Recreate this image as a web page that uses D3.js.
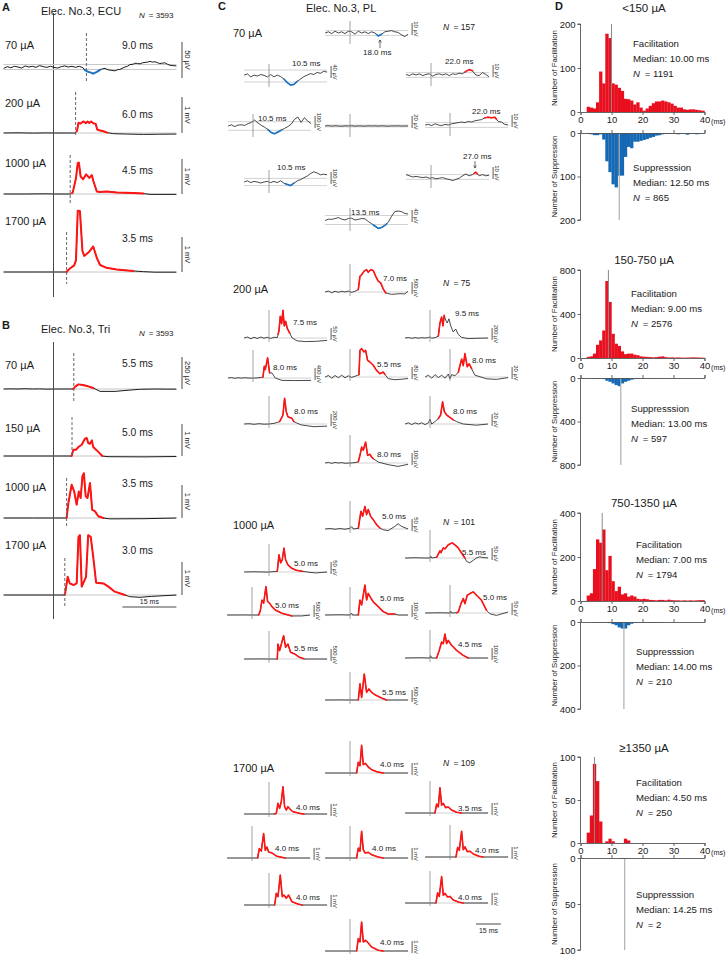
<!DOCTYPE html>
<html><head><meta charset="utf-8">
<script src="https://cdn.jsdelivr.net/npm/d3@7"></script>
<style>
body{margin:0;background:#fff}
svg{display:block}
text{font-family:"Liberation Sans",Arial,Helvetica,sans-serif;fill:#1a1a1a}
</style></head>
<body><svg id="c" width="727" height="956"></svg>
<script>
// ================= DATA =================
// Panel A (ECU) – traces as [time ms, amplitude µV]
const aLevels = ["70 µA","200 µA","1000 µA","1700 µA"];
const aLatency = [9.0, 6.0, 4.5, 3.5];
const aScaleUV = [50, 1000, 1000, 1000];
const aT70 = [[-14,-2],[-13,0.5],[-12,-1],[-11,1],[-10,0],[-9,-1.5],[-8,1.5],[-7,0],[-6,1],[-5,-0.5],[-4,2],[-3,0.5],[-2,-0.5],[-1,1],[0,-0.5],[1,-1.5],[2,0.5],[3,1.5],[4,0],[5,1],[6,-0.5],[7,1],[8,-1],[8.6,-4.5],[9.5,-7],[10.3,-8],[10.9,-9.5],[11.9,-7],[12.8,-4],[13.5,-2.5],[14.2,-2],[15,-4],[15.6,-4.5],[16.9,-5.5],[17.6,-4],[18.3,-3.5],[19.7,0],[20.4,1],[21.1,3.5],[22,4],[22.5,5.5],[23.2,5],[23.9,4.5],[24.6,6],[25.3,6.5],[26,7],[26.7,8],[27.4,7],[28.1,7.5],[28.8,6],[29.4,5],[30.1,5.5],[30.8,6],[31.5,4],[32.2,2.5],[33,2],[34,1.5]];
const aT200 = [[-14,0],[-10,5],[-6,-3],[-2,3],[0,0],[4,0],[5.8,0],[6.4,60],[6.8,290],[7.4,270],[8.1,330],[8.9,280],[9.3,330],[9.8,290],[10.3,330],[10.9,280],[11.6,260],[12,100],[12.8,70],[13.7,50],[14.8,10],[16.5,-20],[20.2,-30],[24.8,-40],[29,-35],[34,-30]];
const aT1000 = [[-14,0],[-8,0],[-2,5],[0,0],[4.7,0],[5.2,40],[6.1,450],[6.6,880],[6.9,900],[7.4,500],[8.1,420],[8.9,560],[9.3,520],[9.8,460],[10.5,540],[10.9,380],[11.9,70],[12.8,60],[14.6,70],[17.4,45],[22,30],[24.8,12],[26.7,-10],[30,-12],[34,-10]];
const aT1700 = [[-14,0],[-6,0],[0,0],[3.5,0],[4,60],[4.4,100],[5.6,190],[6.1,330],[6.6,1750],[7.2,1740],[7.9,600],[8.4,460],[9.8,580],[10.9,730],[11.9,400],[12.8,200],[14.6,120],[17.4,70],[22,30],[24.8,10],[28,-5],[34,-5]];
const aTraces = [aT70, aT200, aT1000, aT1700];
const aHighlight = [[8.5,12.8,"b"],[6.2,14.8,"r"],[5,24.8,"r"],[3.5,22,"r"]];
const aBand = [3.5,0,0,0];

// Panel B (Tri)
const bLevels = ["70 µA","150 µA","1000 µA","1700 µA"];
const bLatency = [5.5, 5.0, 3.5, 3.0];
const bScaleUV = [250, 1000, 1000, 1000];
const bT70 = [[-14,0],[-12,1],[-10,0],[-8,2],[-6,0],[-4,1],[-2,-1],[0,0],[5.3,0],[6,19],[6.8,33],[8,29],[9.5,19],[10.9,7],[12.8,-17],[17,-17],[20,-10],[24,-2],[28,0],[31,-1],[34,-1]];
const bT150 = [[-14,0],[-6,0],[0,0],[4.9,0],[5.4,180],[6.1,180],[6.8,256],[7.7,323],[8.6,494],[9.1,513],[9.5,370],[10,350],[10.5,446],[10.9,256],[11.9,160],[12.8,67],[13.4,0],[15,-20],[25,-25],[34,-15]];
const bT1000 = [[-14,0],[-6,0],[0,0],[3.5,0],[4,430],[4.9,950],[5.6,760],[6.3,380],[6.9,760],[7.4,570],[7.9,1190],[8.3,1280],[8.8,620],[9.3,570],[10,1000],[10.6,240],[11.4,190],[12.3,48],[13.7,0],[15.5,-25],[25,-20],[34,0]];
const bT1700 = [[-14,0],[0,0],[2.9,0],[3.1,48],[3.8,520],[4.4,330],[5.4,285],[6.3,330],[6.8,1660],[7.2,1710],[7.7,240],[8.1,330],[8.9,520],[9.5,1710],[10.2,1660],[10.9,1090],[11.7,350],[13.7,330],[15.1,240],[16.9,95],[19.7,0],[21,-48],[23.9,-66],[27,-40],[34,0]];
const bTraces = [bT70, bT150, bT1000, bT1700];
const bHighlight = [[5.3,10.9,"r"],[4.9,13.4,"r"],[3.5,13.7,"r"],[2.9,19.7,"r"]];

// Panel C (PL) – 9 electrode sites per intensity
const cLevels = ["70 µA","200 µA","1000 µA","1700 µA"];
const cN = [157, 75, 101, 109];
// 70 µA: amplitudes µV sampled every 2 ms from -15 ms
const c70 = [
 [0,1,-0.5,1.5,0,1,-0.5,1.5,1,-1,1.5,0,1,-0.5,1,0,-2.5,-1,1,1.5,2,1,0.5,-1.5,-3,-1],
 [3,7,-3,3,0,5,2,-3,5,-3,3,-2,-10,-22,-30,-28,-18,-10,-2,3,8,5,12,9,16,13],
 [0.5,-0.5,1,0,1,-0.5,0.5,1,-1,0.5,1,0,1,-0.5,1,0.5,1.5,1,3,4.5,3.5,0,-0.5,2,0.5,-1.5],
 [0,10,-5,8,10,5,20,30,50,25,5,-10,-30,-55,-65,-50,-35,-20,-5,15,55,75,30,70,40,20],
 [0,0.5,-0.3,0.4,0,-0.4,0.3,0,0.4,-0.3,0.2,0,-0.3,0.3,0,0.2,-0.2,0.3,0,-0.3,0.2,0,0.3,-0.2,0.1,0],
 [0,0.5,-0.5,1,0,-0.5,0.5,0,1,1.5,2,2.5,2,3,2.5,3.5,4,4.5,6,6.5,6,6.5,3,2.5,0.5,0],
 [0,10,-5,5,0,-8,0,5,-5,5,-5,10,-10,-20,-30,-10,10,20,35,50,70,85,75,60,65,60],
 [2,1,0,0.5,0,-0.5,0,-1,-0.5,-1.5,-1,-0.5,-1.5,-2,-3,-2,-1,1,2.5,1,2,4,1,2,1,1.5],
 [-2,3,2,5,8,3,0,5,6,0,2,5,4,-5,-12,-20,-28,-25,-18,-8,12,28,30,28,22,20]
];
const c70Scale = [10,40,10,100,20,10,100,10,40];
const c70Lat = ["18.0","10.5","22.0","10.5",null,"22.0","10.5","27.0","13.5"];
const c70Hi = [[16,19,"b"],[9,17,"b"],[20.5,25,"r"],[9,17,"b"],null,[21,28,"r"],[10,15,"b"],[26,28,"r"],[14,22,"b"]];
const c70Band = [2,20,2,36,1.5,2,30,2,15];

const c200 = [
 [[-15,0],[-13,40],[-11,-30],[-9,30],[-7,-10],[-5,30],[-3,0],[-1,40],[1,-15],[3,30],[5,100],[6,650],[7,720],[8.5,870],[10,930],[11,820],[12.5,930],[14,900],[15.5,650],[17,450],[18.5,380],[20,130],[21.5,-40],[25,-100],[30,-70],[33,-80],[35,30]],
 [[-15,0],[-13,4],[-11,-3],[-9,3],[-7,-2],[-5,4],[-3,-1],[-1,3],[1,-2],[3,3],[5,2],[6,30],[6.8,90],[7.6,60],[8.4,115],[9.2,50],[10,70],[11,40],[12.5,20],[14,0],[17,-12],[22,-15],[28,-14],[35,-10]],
 [[-15,0],[-13,8],[-11,-5],[-9,6],[-7,-3],[-5,5],[-3,0],[-1,6],[0,20],[1,-2],[3,5],[5,30],[6,250],[7,350],[7.8,200],[8.6,380],[9.4,300],[10.4,250],[11.4,320],[12.5,200],[14,100],[15.5,150],[17,60],[19,10],[23,-10],[28,-5],[35,0]],
 [[-15,0],[-13,15],[-11,-10],[-9,10],[-7,-5],[-5,10],[-3,0],[-1,-5],[1,0],[3,5],[6,30],[6.8,390],[7.4,280],[8.8,670],[10,170],[11.4,170],[13.4,0],[17.4,-80],[25,-85],[35,-80]],
 [[-15,0],[-13,10],[-11,-8],[-9,10],[-7,-5],[-5,12],[-3,-5],[-1,8],[1,-3],[3,5],[5.4,15],[6,178],[7,189],[8.4,167],[9.4,178],[10.6,111],[12,100],[14,78],[16,44],[18,22],[20,33],[21,18],[23,-11],[27,-18],[31,-15],[35,-10]],
 [[-15,0],[-13,3],[-11,-2],[-9,4],[-7,-1],[-5,3],[-3,-2],[-1,5],[0,-3],[1,4],[3,2],[5,8],[7,30],[8,19],[9,39],[10.4,17],[11.6,22],[13,14],[15,3],[22,-3],[28,-4],[35,-1]],
 [[-15,0],[-12,5],[-9,-5],[-6,5],[-3,-3],[0,0],[3,10],[6.4,40],[7.4,95],[8.4,150],[9.4,430],[10.4,205],[11.4,120],[12.4,110],[13.8,95],[15,40],[16.4,20],[19.4,-15],[27,-45],[35,-35]],
 [[-15,0],[-13,2],[-11,-1],[-9,2],[-7,0],[-5,2],[-3,-1],[-1,2],[0,8],[1,0],[3,4],[5,9],[6.4,15],[7.6,37],[8.6,21],[10,15],[12,11],[14,7],[16,4],[20,0],[28,-2],[35,0]],
 [[-15,0],[-13,5],[-11,-3],[-9,5],[-7,0],[-5,3],[-3,-2],[0,0],[3,3],[5,10],[6,64],[7,133],[8,106],[9.4,175],[10.6,64],[12,72],[13,50],[14,36],[17,8],[23,-14],[29,-28],[35,-11]]
];
const c200Scale = [500,50,200,400,80,20,200,20,100];
const c200Lat = ["7.0","7.5","9.5","8.0","5.5","8.0","8.0","8.0","8.0"];
const c200Hi = [[5,21.5,"r"],[5.5,12.5,"r"],[5,8.6,"r"],[6,10,"r"],[5.4,21,"r"],[5,13,"r"],[6.4,15,"r"],[5,14,"r"],[5,14,"r"]];

const c1000 = [
 [[-15,0],[-12,2],[-9,-1],[-6,2],[-3,-1],[0,3],[1,10],[2,0],[5,3],[6.6,74],[7.6,53],[9,94],[10,60],[11,81],[12.4,53],[14,39],[16,18],[18,4],[20,-3],[23,-7],[27,11],[29,22],[31,11],[35,0]],
 [[-15,0],[-9,1],[-3,0],[0,0],[5,3],[5.4,30],[6,72],[7,38],[8,51],[9,100],[10,51],[11.4,30],[13.4,17],[16.4,7],[20,3],[24,-1],[28,-4],[35,0]],
 [[-15,0],[-9,1],[-3,0],[0,0],[0.4,8],[1,0],[4,3],[6,30],[6.6,22],[8,42],[9,38],[11,55],[13.4,63],[15,55],[17,42],[19,21],[21,0],[22,-14],[24,-20],[26,-10],[28,0],[30,5],[32,2],[35,0]],
 [[-15,0],[-6,3],[0,0],[4,0],[5,170],[6,625],[7,490],[8.4,1180],[9.4,560],[10.6,490],[12,350],[14,210],[18,70],[24,-40],[30,-40],[35,0]],
 [[-15,0],[-6,2],[0,0],[1,15],[1.5,0],[5,0],[6,125],[7,83],[9,250],[10,125],[11,180],[12.6,140],[14,110],[17,70],[20,28],[23,8],[27,8],[29,0],[35,0]],
 [[-15,0],[-6,1],[0,0],[0.4,8],[1,0],[4,1],[5,4],[6.6,39],[8,60],[9,39],[10.4,74],[12,81],[14,88],[16,74],[19,53],[22,11],[24,-3],[28,-10],[35,4]],
 [[-15,0],[-6,3],[0,0],[5,0],[5.4,625],[6.4,350],[8.8,970],[10,490],[11.4,625],[13,280],[15.4,210],[18.4,70],[21.4,0],[30,0],[35,0]],
 [[-15,0],[-6,2],[0,0],[0.3,20],[1,0],[4,0],[5.6,64],[7,133],[8,120],[9,200],[10,120],[11,147],[13,106],[16,64],[20,22],[23,0],[35,0]],
 [[-15,0],[-6,3],[0,0],[5,0],[6,670],[7,110],[8.6,1080],[10,320],[11.4,460],[13,320],[15,220],[19,80],[22,0],[35,0]]
];
const c1000Scale = [50,50,50,500,100,50,500,100,500];
const c1000Lat = ["5.0","5.0","5.5","5.0","5.0","5.0","5.5","4.5","5.5"];
const c1000Hi = [[5,18,"r"],[5,20,"r"],[4,21,"r"],[4,24,"r"],[5,27,"r"],[4,22,"r"],[5,21,"r"],[4,23,"r"],[5,22,"r"]];

const c1700 = [
 [[-15,0],[0,0],[4,0],[5,900],[6,600],[7,2300],[8,700],[9.4,800],[11,500],[13,280],[17,70],[20,0],[35,0]],
 [[-15,0],[0,0],[3.4,0],[4.4,55],[5.4,890],[6.4,470],[7.4,1020],[8.4,2270],[9.4,610],[10.4,330],[11.4,610],[12.8,390],[14.4,190],[18.4,55],[21,0],[35,0]],
 [[-15,0],[0,0],[3,0],[4,750],[5,500],[6,2100],[7,650],[8,800],[9.4,450],[11,500],[13,250],[16,60],[19,0],[35,0]],
 [[-15,0],[0,0],[3.4,0],[4.4,780],[5.6,580],[7,2040],[8,640],[9,920],[10,500],[12,420],[15,140],[20,0],[35,0]],
 [[-15,0],[0,0],[4,0],[5,830],[6,560],[7,2220],[8,690],[9,420],[11,470],[13,280],[17,80],[20,0],[35,0]],
 [[-15,0],[0,0],[3.6,0],[4.6,800],[5.6,550],[7,2150],[8,600],[9,850],[10.4,450],[12,480],[14,250],[17.5,60],[20,0],[35,0]],
 [[-15,0],[0,0],[3.4,0],[4.4,970],[5.4,690],[6.8,2500],[8,690],[9,830],[10.4,560],[11.8,830],[13.8,280],[17.4,80],[20,0],[35,0]],
 [[-15,0],[0,0],[3.6,0],[4.6,850],[5.6,550],[7,2200],[8,650],[9,800],[10.6,500],[12,550],[14,250],[17.5,60],[20,0],[35,0]],
 [[-15,0],[0,0],[4,0],[5,1030],[6,750],[7,2420],[8,750],[9.4,890],[11,670],[13,330],[17,60],[20,0],[35,0]]
];
const c1700Scale = [1000,1000,1000,1000,1000,1000,1000,1000,1000];
const c1700Lat = ["4.0","4.0","3.5","4.0","4.0","4.0","4.0","4.0","4.0"];
const c1700Hi = [[4,20,"r"],[3.4,21,"r"],[3,19,"r"],[3.4,20,"r"],[4,20,"r"],[3.6,20,"r"],[3.4,20,"r"],[3.6,20,"r"],[4,20,"r"]];

// Panel D – histograms, counts per 1-ms bin (0–40 ms)
const dTitles = ["<150 µA","150-750 µA","750-1350 µA","≥1350 µA"];
const d1Fac = [0,0,12,10,8,22,92,65,178,168,65,62,55,48,30,29,26,17,22,10,3,8,14,20,24,24,26,24,22,19,14,10,10,6,5,6,6,5,4,3];
const d1Sup = [0,0,2,3,5,5,3,15,65,90,118,125,98,98,55,32,35,20,20,18,16,14,11,9,6,5,3,2,2,1,2,3,2,2,4,2,2,3,2,1];
const d2Fac = [0,0,10,15,40,120,160,250,700,510,220,130,110,60,35,40,40,30,25,15,12,10,8,6,8,12,15,8,5,6,4,5,4,3,4,5,6,5,4,3];
const d2Sup = [0,0,3,4,5,4,5,10,25,35,50,65,75,50,35,25,15,10,8,6,5,4,4,3,3,2,2,2,2,2,1,1,1,1,1,1,1,1,1,1];
const d3Fac = [0,0,25,35,145,280,265,325,140,205,90,45,65,30,35,20,25,20,10,8,10,8,5,4,3,5,5,3,6,4,3,3,2,3,2,3,2,3,4,4];
const d3Sup = [0,0,0,0,3,3,2,2,2,5,10,15,25,30,30,15,8,3,2,2,3,3,4,3,2,2,2,1,0,0,0,0,0,0,0,0,0,0,0,0];
const d4Fac = [0,0,12,32,92,72,25,0,2,5,2,0,0,0,5,3,0,0,0,0,0,0,0,0,0,0,0,0,0,0,0,0,0,0,0,0,0,0,0,0];
const d4Sup = [0,0,0,0,0,0,0,0,0,0,0,0,0,1,1,0,0,0,0,0,0,0,0,0,0,0,0,0,0,0,0,0,0,0,0,0,0,0,0,0];
const dFacTicks = [[0,100,200],[0,400,800],[0,200,400],[0,50,100]];
const dSupTicks = [[0,100,200],[0,400,800],[0,200,400],[0,50,100]];
const dFacMedian = [10.00, 9.00, 7.00, 4.50];
const dSupMedian = [12.50, 13.00, 14.00, 14.25];
const dFacN = [1191, 2576, 1794, 250];
const dSupN = [865, 597, 210, 2];
const dXTicks = [0,10,20,30,40];

// ================= DRAWING =================
const svg = d3.select("#c");
const RED = "#ff1414", BLUE = "#1c74c4", BAND = "#c6c6c6";
const HRED = "#e8101e", HBLUE = "#1468b4";

function text(x, y, s, size, o = {}) {
  const t = svg.append("text").attr("x", x).attr("y", y).attr("font-size", size).text(s);
  if (o.anchor) t.attr("text-anchor", o.anchor);
  if (o.weight) t.attr("font-weight", o.weight);
  if (o.rot != null) t.attr("transform", `rotate(${o.rot},${x},${y})`);
  return t;
}
function nText(x, y, n, size) {
  const t = svg.append("text").attr("x", x).attr("y", y).attr("font-size", size);
  t.append("tspan").attr("font-style", "italic").text("N");
  t.append("tspan").text("\u2002= " + n);
  return t;
}
function interp(pts, t) {
  for (let i = 0; i < pts.length - 1; i++) {
    const a = pts[i], b = pts[i + 1];
    if (t >= a[0] && t <= b[0]) return [t, a[1] + (b[1] - a[1]) * (t - a[0]) / (b[0] - a[0])];
  }
  return pts[pts.length - 1];
}
function segment(pts, a, b) {
  const s = [interp(pts, a)];
  pts.forEach(p => { if (p[0] > a && p[0] < b) s.push(p); });
  s.push(interp(pts, b));
  return s;
}
function drawTrace(pts, o) {
  const x = d3.scaleLinear().domain([0, 10]).range([o.x0, o.x0 + 10 * o.pxMs]);
  const y = d3.scaleLinear().domain([0, o.bar]).range([o.y0, o.y0 - o.barPx]);
  const bands = o.band ? [o.band, -o.band] : [0];
  bands.forEach(b => svg.append("line").attr("x1", x(o.tMin)).attr("x2", x(o.tMax))
    .attr("y1", y(b)).attr("y2", y(b)).attr("stroke", BAND).attr("stroke-width", o.bw || 1));
  const line = d3.line().x(d => x(d[0])).y(d => y(d[1]));
  svg.append("path").attr("d", line(pts)).attr("fill", "none").attr("stroke", "#1a1a1a")
    .attr("stroke-width", o.lw).attr("stroke-linejoin", "round");
  if (o.hi) {
    svg.append("path").attr("d", line(segment(pts, o.hi[0], o.hi[1]))).attr("fill", "none")
      .attr("stroke", o.hi[2] === "b" ? BLUE : RED).attr("stroke-width", o.hw)
      .attr("stroke-linejoin", "round").attr("stroke-linecap", "round");
  }
  return { x, y };
}
function scaleText(v) { return v >= 1000 ? (v / 1000) + " mV" : v + " µV"; }
function vline(x, y1, y2, color, w, dash) {
  const l = svg.append("line").attr("x1", x).attr("x2", x).attr("y1", y1).attr("y2", y2)
    .attr("stroke", color).attr("stroke-width", w);
  if (dash) l.attr("stroke-dasharray", dash);
  return l;
}
function hline(x1, x2, y, color, w) {
  return svg.append("line").attr("x1", x1).attr("x2", x2).attr("y1", y).attr("y2", y)
    .attr("stroke", color).attr("stroke-width", w);
}

// ---------- Panels A and B ----------
const AB_T0 = 54, AB_PXMS = 3.6, AB_BAR = 35;
const xAB = d3.scaleLinear().domain([0, 15]).range([AB_T0, AB_T0 + 15 * AB_PXMS]);
function abPanel(P) {
  text(2, P.letterY, P.letter, 11, { weight: "bold" });
  text(41, P.titleY, P.title, 11);
  nText(139, P.titleY + 3, 3593, 8);
  vline(xAB(0) - 0.5, P.stim[0], P.stim[1], "#333", 0.9);
  P.traces.forEach((pts, i) => {
    drawTrace(pts, { x0: xAB(0), pxMs: AB_PXMS, y0: P.base[i], bar: P.scale[i], barPx: AB_BAR,
      tMin: -14, tMax: 34, hi: P.hi[i], band: P.band[i], lw: 1, hw: 2, bw: 1 });
    vline(xAB(P.lat[i]), P.dash[i][0], P.dash[i][1], "#666", 1, "3,2");
    text(5, P.lvlY[i], P.levels[i], 11);
    text(122, P.latY[i], d3.format(".1f")(P.lat[i]) + " ms", 10.3);
    vline(182, P.barY[i][0], P.barY[i][1], "#333", 0.9);
    text(185, (P.barY[i][0] + P.barY[i][1]) / 2, scaleText(P.scale[i]), 7.5, { anchor: "middle", rot: 90 });
  });
}
abPanel({ letter: "A", letterY: 11, title: "Elec. No.3, ECU", titleY: 15, stim: [13, 297],
  traces: aTraces, levels: aLevels, lat: aLatency, scale: aScaleUV, hi: aHighlight, band: aBand,
  base: [67, 133, 194, 272], lvlY: [49, 107, 167, 225], latY: [49, 118, 174, 242],
  dash: [[33, 83], [92, 135], [155, 205], [232, 284]],
  barY: [[42, 78], [97, 133], [159, 194], [237, 272]] });
abPanel({ letter: "B", letterY: 329, title: "Elec. No.3, Tri", titleY: 333, stim: [342, 619],
  traces: bTraces, levels: bLevels, lat: bLatency, scale: bScaleUV, hi: bHighlight, band: [0, 0, 0, 0],
  base: [389, 456, 518, 595], lvlY: [369, 432, 491, 549], latY: [367, 436, 487, 554],
  dash: [[353, 402], [417, 457], [478, 528], [558, 607]],
  barY: [[357, 389], [424, 456], [485, 518], [562, 595]] });
// 15 ms time bar (B)
hline(xAB(19), xAB(34), 607, "#333", 0.9);
text((xAB(19) + xAB(34)) / 2, 604, "15 ms", 7, { anchor: "middle" });

// ---------- Panel C ----------
const C_PXMS = 1.66, CBAR = 12;
text(218, 10, "C", 11, { weight: "bold" });
text(306, 12, "Elec. No.3, PL", 11);
const cLayouts = [
  [[350,33,363,55],[269,76,292,66],[431,75,445,64],[253,126,258,121],[350,126,null,null],[450,125,472,114],[269,182,277,170],[431,177,463,159],[350,220,351,215]],
  [[350,292,383,281],[269,338,293,325],[430,338,455,316],[253,378,273,370],[350,377,377,367],[450,377,472,363],[269,424,294,414],[430,424,453,414],[350,463,377,457]],
  [[350,529,382,519],[269,572,294,566],[430,558,462,555],[252,615,275,608],[350,615,380,601],[450,613,483,600],[269,659,294,651],[430,658,458,647],[350,700,382,695]],
  [[350,773,380,767],[269,814,296,810],[430,813,458,811],[252,858,275,851],[350,858,372,851],[450,857,475,853],[269,905,296,900],[430,903,458,900],[350,951,380,945]]
];
const cLabelY = [37, 293, 529, 772];
const cNY = [30, 286, 525, 766];
const cStimExt = [[12, 11], [28, 4], [28, 4], [32, 3]];
const cBlocks = [
  { data: c70, scale: c70Scale, lat: c70Lat, hi: c70Hi, band: c70Band },
  { data: c200, scale: c200Scale, lat: c200Lat, hi: c200Hi, band: null },
  { data: c1000, scale: c1000Scale, lat: c1000Lat, hi: c1000Hi, band: null },
  { data: c1700, scale: c1700Scale, lat: c1700Lat, hi: c1700Hi, band: null }
];
cBlocks.forEach((B, bi) => {
  text(233, cLabelY[bi], cLevels[bi], 11);
  nText(443, cNY[bi], cN[bi], 8.5);
  B.data.forEach((vals, i) => {
    const L = cLayouts[bi][i];
    const pts = Array.isArray(vals[0]) ? vals : vals.map((v, k) => [-15 + 2 * k, v]);
    const { x } = drawTrace(pts, { x0: L[0], pxMs: C_PXMS, y0: L[1], bar: B.scale[i], barPx: CBAR,
      tMin: -15, tMax: 35, hi: B.hi[i], band: B.band ? B.band[i] : 0, lw: 0.8, hw: 1.6, bw: 0.8 });
    vline(L[0], L[1] - cStimExt[bi][0], L[1] + cStimExt[bi][1], "#8c8c8c", 0.8);
    const bx = x(35) + 4;
    vline(bx, L[1] + 2 - CBAR, L[1] + 2, "#333", 0.8);
    text(bx + 2, L[1] + 2 - CBAR / 2, scaleText(B.scale[i]), 5.8, { anchor: "middle", rot: 90 });
    if (B.lat[i]) text(L[2], L[3], B.lat[i] + " ms", 8);
  });
});
// arrows for 70 µA sites
function arrow(x, y1, y2) {
  vline(x, y1, y2, "#333", 0.7);
  const d = y2 > y1 ? -2.5 : 2.5;
  svg.append("path").attr("d", `M${x - 1.4},${y2 + d}L${x},${y2}L${x + 1.4},${y2 + d}`)
    .attr("fill", "none").attr("stroke", "#333").attr("stroke-width", 0.7);
}
arrow(380, 48, 40);
arrow(475, 161, 168);
// 15 ms bar for panel C
hline(476, 476 + 15 * C_PXMS, 924, "#333", 0.9);
text(476 + 7.5 * C_PXMS, 933, "15 ms", 7, { anchor: "middle" });

// ---------- Panel D ----------
text(555, 10, "D", 11, { weight: "bold" });
const dX = d3.scaleLinear().domain([0, 40]).range([580.5, 704.5]);
const dLay = [
  { title: 12, fTop: 24, f0: 112, s0: 133, sBot: 220, tx: 633, fy: 47, sy: 171 },
  { title: 264, fTop: 270, f0: 358, s0: 378, sBot: 465, tx: 631, fy: 297, sy: 412 },
  { title: 507, fTop: 513, f0: 601, s0: 622, sBot: 709, tx: 636, fy: 548, sy: 655 },
  { title: 752, fTop: 757, f0: 843, s0: 858, sBot: 950, tx: 636, fy: 786, sy: 898 }
];
const dFac = [d1Fac, d2Fac, d3Fac, d4Fac], dSup = [d1Sup, d2Sup, d3Sup, d4Sup];
dLay.forEach((L, k) => {
  text(644, L.title, dTitles[k], 11.5, { anchor: "middle" });
  const fMax = dFacTicks[k][2], sMax = dSupTicks[k][2];
  const yF = d3.scaleLinear().domain([0, fMax]).range([L.f0, L.fTop]);
  const yS = d3.scaleLinear().domain([0, sMax]).range([L.s0, L.sBot]);
  svg.append("g").selectAll("rect").data(dFac[k]).join("rect")
    .attr("x", (d, i) => dX(i)).attr("width", dX(1) - dX(0) + 0.2)
    .attr("y", d => yF(d)).attr("height", d => L.f0 - yF(d)).attr("fill", HRED);
  svg.append("g").selectAll("rect").data(dSup[k]).join("rect")
    .attr("x", (d, i) => dX(i)).attr("width", dX(1) - dX(0) + 0.2)
    .attr("y", L.s0).attr("height", d => yS(d) - L.s0).attr("fill", HBLUE);
  // medians
  vline(dX(dFacMedian[k]), L.fTop, L.f0, "#8a8a8a", 1);
  vline(dX(dSupMedian[k]), L.s0, L.sBot, "#b0b0b0", 1.2);
  // axes
  const gF = svg.append("g").attr("transform", `translate(${dX(0)},0)`)
    .call(d3.axisLeft(yF).tickValues(dFacTicks[k]).tickSize(3).tickPadding(2));
  const gS = svg.append("g").attr("transform", `translate(${dX(0)},0)`)
    .call(d3.axisLeft(yS).tickValues(dSupTicks[k]).tickSize(3).tickPadding(2));
  const gX = svg.append("g").attr("transform", `translate(0,${L.f0})`)
    .call(d3.axisBottom(dX).tickValues(dXTicks).tickSize(3).tickPadding(1.5));
  const gX2 = svg.append("g").attr("transform", `translate(0,${L.s0})`)
    .call(d3.axisBottom(dX).tickValues(dXTicks).tickSize(-3).tickFormat(""));
  [gF, gS, gX, gX2].forEach(g => {
    g.selectAll("path,line").attr("stroke", "#555").attr("stroke-width", 0.9);
    g.selectAll("text").attr("font-size", 9.5).attr("fill", "#1a1a1a")
      .attr("font-family", '"Liberation Sans",Arial,sans-serif');
  });
  gF.select(".domain").attr("d", `M-3,${L.fTop}H0V${L.f0}`);
  gS.select(".domain").attr("d", `M0,${L.s0}V${L.sBot}H-3`);
  text(711, L.f0 + 12, "(ms)", 7.2);
  // texts
  text(L.tx, L.fy, "Facilitation", 9.6);
  text(L.tx, L.fy + 15, "Median: " + d3.format(".2f")(dFacMedian[k]) + " ms", 9.6);
  nText(L.tx, L.fy + 30, dFacN[k], 9.6);
  text(L.tx, L.sy, "Suppresssion", 9.6);
  text(L.tx, L.sy + 15, "Median: " + d3.format(".2f")(dSupMedian[k]) + " ms", 9.6);
  nText(L.tx, L.sy + 30, dSupN[k], 9.6);
  text(557, (L.fTop + L.f0) / 2, "Number of Facilitation", 7.8, { anchor: "middle", rot: -90 });
  text(557, (L.s0 + L.sBot) / 2, "Number of Suppression", 7.8, { anchor: "middle", rot: -90 });
});
</script></body></html>
